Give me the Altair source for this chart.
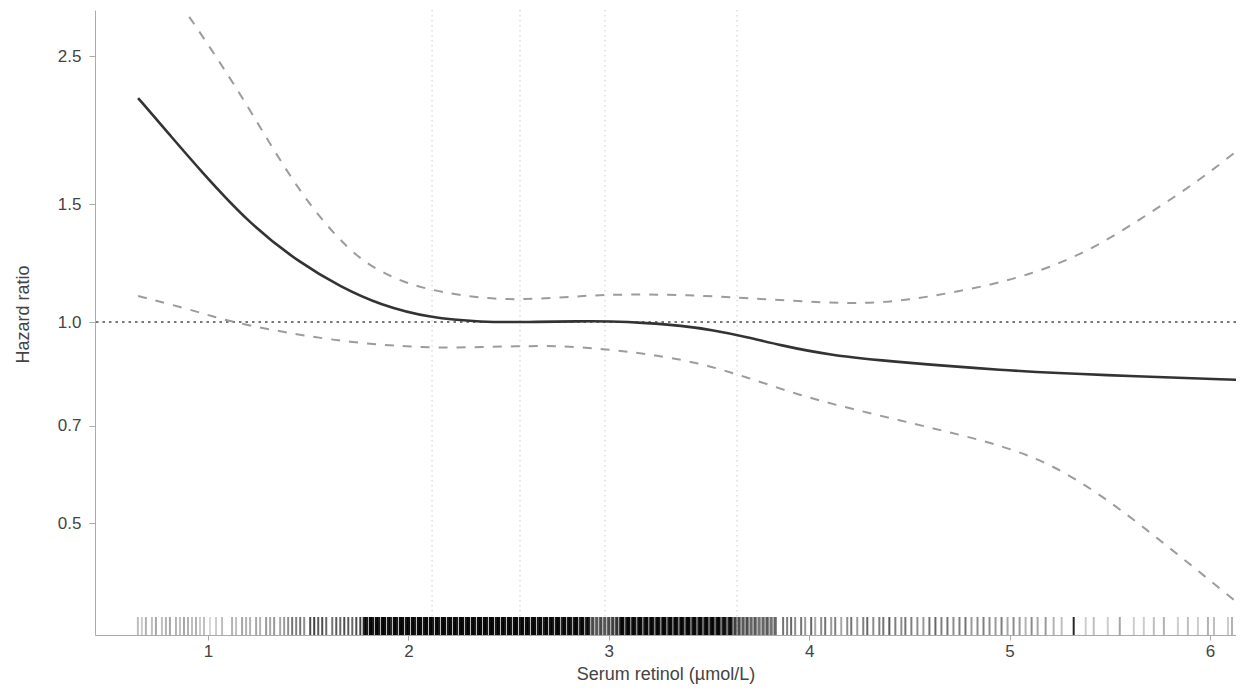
import altair as alt
import pandas as pd

# ---- data ----
main_x = [0.651, 0.81, 0.96, 1.21, 1.46, 1.66, 1.86, 2.11, 2.36, 2.6, 2.86, 3.0, 3.19, 3.36, 3.52, 3.69, 3.85, 4.1, 4.45, 4.95, 5.45, 6.17]
main_hr = [2.165, 1.906, 1.689, 1.40, 1.225, 1.13, 1.06, 1.014, 1.0, 1.0, 1.003, 1.003, 0.997, 0.988, 0.973, 0.95, 0.924, 0.892, 0.871, 0.847, 0.833, 0.819]

upper_x = [0.651, 0.885, 1.04, 1.21, 1.46, 1.71, 1.86, 2.0, 2.16, 2.36, 2.57, 2.86, 3.02, 3.36, 3.69, 4.1, 4.3, 4.5, 4.7, 4.95, 5.2, 5.45, 5.7, 5.95, 6.17]
upper_hr = [3.7, 2.93, 2.5, 2.08, 1.55, 1.27, 1.19, 1.14, 1.109, 1.086, 1.079, 1.094, 1.10, 1.10, 1.086, 1.068, 1.067, 1.08, 1.105, 1.144, 1.205, 1.304, 1.456, 1.632, 1.84]

lower_x = [0.651, 0.96, 1.11, 1.46, 1.71, 1.96, 2.19, 2.56, 2.77, 2.99, 3.19, 3.44, 3.69, 3.95, 4.2, 4.45, 4.7, 4.95, 5.2, 5.45, 5.7, 5.95, 6.17]
lower_hr = [1.094, 1.035, 1.0, 0.956, 0.933, 0.92, 0.914, 0.921, 0.921, 0.911, 0.896, 0.871, 0.827, 0.777, 0.743, 0.713, 0.684, 0.655, 0.615, 0.553, 0.485, 0.422, 0.373]

knots = [2.118, 2.557, 2.981, 3.64]
ref_hr = [1.0]

x_ticks = [1, 2, 3, 4, 5, 6]
y_ticks = [0.5, 0.7, 1.0, 1.5, 2.5]

# rug: tick positions and their grey level
rug_light_a = [0.65, 0.67, 0.69, 0.72, 0.74, 0.77, 0.79, 0.81, 0.84, 0.86, 0.88, 0.90, 0.92, 0.94, 0.96, 0.98,
               1.01, 1.04, 1.07, 1.12, 1.14, 1.17, 1.19, 1.21, 1.24, 1.26, 1.29, 1.31, 1.33, 1.36, 1.38]
shade_a = [0.25, 0.2, 0.3, 0.25, 0.35, 0.25, 0.3, 0.35, 0.3, 0.25, 0.35, 0.3, 0.25, 0.3, 0.2, 0.25,
           0.15, 0.2, 0.25, 0.3, 0.25, 0.35, 0.3, 0.3, 0.35, 0.3, 0.4, 0.35, 0.4, 0.35, 0.4]
rug_mid_b = [1.40, 1.42, 1.44, 1.46, 1.48, 1.51, 1.53, 1.55, 1.57, 1.59, 1.62, 1.64, 1.66, 1.68, 1.70, 1.72, 1.74, 1.76]
shade_b = [0.45, 0.55, 0.5, 0.55, 0.45, 0.7, 0.75, 0.65, 0.7, 0.6, 0.55, 0.65, 0.6, 0.7, 0.65, 0.6, 0.7, 0.75]
rug_dense_c = [1.78, 1.79, 1.81, 1.82, 1.84, 1.85, 1.87, 1.88, 1.90, 1.91, 1.93, 1.94, 1.96, 1.97, 1.99, 2.00,
               2.02, 2.03, 2.05, 2.06, 2.08, 2.09, 2.11, 2.12, 2.14, 2.15, 2.17, 2.18, 2.20, 2.21, 2.23, 2.24,
               2.26, 2.27, 2.29, 2.30, 2.32, 2.33, 2.35, 2.36, 2.38, 2.39, 2.41, 2.42, 2.44, 2.45, 2.47, 2.48,
               2.50, 2.51, 2.53, 2.54, 2.56, 2.57, 2.59, 2.60, 2.62, 2.63, 2.65, 2.66, 2.68, 2.69, 2.71, 2.72,
               2.74, 2.75, 2.77, 2.78, 2.80, 2.81, 2.83, 2.84, 2.86, 2.87, 2.89, 2.90, 2.92, 2.94, 2.96, 2.98,
               3.00, 3.02, 3.04, 3.06, 3.07, 3.09, 3.10, 3.12, 3.13, 3.15, 3.16, 3.18, 3.19, 3.21, 3.22, 3.24,
               3.25, 3.27, 3.28, 3.30, 3.31, 3.33, 3.34, 3.36, 3.37, 3.39, 3.40, 3.42, 3.43, 3.45, 3.46, 3.48,
               3.49, 3.51, 3.52, 3.54, 3.55, 3.57, 3.58, 3.60, 3.61, 3.63, 3.65, 3.67, 3.69, 3.71, 3.73, 3.75,
               3.77, 3.79, 3.81, 3.83]
shade_c = [0.85, 0.9, 0.95, 0.9, 0.95, 0.9, 0.95, 0.95, 0.9, 0.85, 0.95, 0.9, 0.95, 0.95, 0.9, 0.95,
           0.95, 0.9, 0.95, 0.95, 0.9, 0.95, 0.95, 0.9, 0.95, 0.9, 0.95, 0.95, 0.9, 0.95, 0.95, 0.9,
           0.95, 0.95, 0.9, 0.95, 0.95, 0.9, 0.95, 0.95, 0.95, 0.9, 0.95, 0.95, 0.9, 0.95, 0.95, 0.9,
           0.95, 0.9, 0.95, 0.95, 0.9, 0.95, 0.95, 0.9, 0.95, 0.95, 0.9, 0.95, 0.9, 0.95, 0.95, 0.9,
           0.95, 0.95, 0.9, 0.95, 0.95, 0.9, 0.95, 0.95, 0.9, 0.95, 0.9, 0.85, 0.7, 0.65, 0.7, 0.65,
           0.7, 0.75, 0.8, 0.9, 0.95, 0.9, 0.95, 0.95, 0.9, 0.95, 0.95, 0.9, 0.95, 0.95, 0.9, 0.95,
           0.9, 0.95, 0.95, 0.9, 0.95, 0.95, 0.9, 0.95, 0.9, 0.95, 0.95, 0.9, 0.95, 0.9, 0.95, 0.9,
           0.95, 0.9, 0.95, 0.9, 0.95, 0.85, 0.9, 0.85, 0.9, 0.75, 0.7, 0.65, 0.7, 0.6, 0.65, 0.55,
           0.6, 0.65, 0.55, 0.6]
rug_mid_d = [3.87, 3.89, 3.91, 3.93, 3.96, 3.98, 4.01, 4.03, 4.06, 4.08, 4.11, 4.13, 4.16, 4.19, 4.21, 4.24,
             4.27, 4.29, 4.32, 4.35, 4.37, 4.40, 4.43, 4.46, 4.48, 4.51, 4.54, 4.57, 4.60, 4.63, 4.66, 4.69,
             4.72, 4.75, 4.78, 4.81, 4.84, 4.87, 4.90, 4.93, 4.96, 4.99, 5.02, 5.05, 5.08, 5.11, 5.14, 5.18,
             5.22, 5.26, 5.32]
shade_d = [0.55, 0.5, 0.6, 0.45, 0.55, 0.4, 0.6, 0.35, 0.45, 0.55, 0.4, 0.5, 0.35, 0.45, 0.55, 0.4,
           0.5, 0.6, 0.45, 0.5, 0.55, 0.65, 0.5, 0.45, 0.55, 0.5, 0.45, 0.4, 0.55, 0.6, 0.5, 0.55,
           0.45, 0.5, 0.55, 0.4, 0.45, 0.5, 0.45, 0.4, 0.5, 0.35, 0.45, 0.4, 0.3, 0.45, 0.35, 0.4,
           0.3, 0.25, 0.85]
rug_light_e = [5.38, 5.42, 5.49, 5.55, 5.62, 5.67, 5.72, 5.77, 5.84, 5.89, 5.94, 5.99, 6.02, 6.09, 6.11]
shade_e = [0.2, 0.25, 0.2, 0.35, 0.2, 0.2, 0.25, 0.3, 0.2, 0.25, 0.2, 0.3, 0.25, 0.2, 0.3]

rug_sparse_x = rug_light_a + rug_mid_b + rug_mid_d + rug_light_e
rug_sparse_shade = shade_a + shade_b + shade_d + shade_e

# ---- chart ----
FONT = "Liberation Sans"
TXT = "#444444"

df_main = pd.DataFrame({"x": main_x, "y": main_hr})
df_upper = pd.DataFrame({"x": upper_x, "y": upper_hr})
df_lower = pd.DataFrame({"x": lower_x, "y": lower_hr})
df_knots = pd.DataFrame({"x": knots})
df_ref = pd.DataFrame({"y": ref_hr})
df_rug_sparse = pd.DataFrame({"x": rug_sparse_x, "shade": rug_sparse_shade})
df_rug_dense = pd.DataFrame({"x": rug_dense_c, "shade": shade_c})

xscale = alt.Scale(domain=[0.436, 6.13], nice=False, zero=False)
yscale = alt.Scale(type="log", domain=[0.340, 2.933], nice=False)

xaxis = alt.Axis(values=x_ticks, format="d", grid=False, tickSize=5, labelPadding=3,
                 titlePadding=6, domainColor="#aaaaaa", tickColor="#aaaaaa",
                 labelColor=TXT, titleColor=TXT, labelFont=FONT, titleFont=FONT,
                 labelFontSize=17, titleFontSize=18, titleFontWeight="normal")
yaxis = alt.Axis(values=y_ticks, format=".1f", grid=False, tickSize=6, labelPadding=8,
                 titlePadding=25, titleY=304, domainColor="#aaaaaa", tickColor="#aaaaaa",
                 labelColor=TXT, titleColor=TXT, labelFont=FONT, titleFont=FONT,
                 labelFontSize=17, titleFontSize=18, titleFontWeight="normal")

X = alt.X("x:Q", scale=xscale, axis=xaxis, title="Serum retinol (µmol/L)")
Y = alt.Y("y:Q", scale=yscale, axis=yaxis, title="Hazard ratio")

knot_rules = alt.Chart(df_knots).mark_rule(color="#cccccc", strokeWidth=1, strokeDash=[1.5, 3.5]).encode(x=X)
ref_rule = alt.Chart(df_ref).mark_rule(color="#777777", strokeWidth=2, strokeDash=[2.5, 4]).encode(y=Y)
rug_sparse = alt.Chart(df_rug_sparse).mark_rule(color="black", strokeWidth=2).encode(
    x=X, y=alt.value(607), y2=alt.value(625), opacity=alt.Opacity("shade:Q", scale=None, legend=None))
rug_dense = alt.Chart(df_rug_dense).mark_rule(color="black", strokeWidth=3.3).encode(
    x=X, y=alt.value(607), y2=alt.value(625), opacity=alt.Opacity("shade:Q", scale=None, legend=None))
upper = alt.Chart(df_upper).mark_line(color="#9c9c9c", strokeWidth=2, strokeDash=[9, 9],
                                      interpolate="basis", clip=True).encode(x=X, y=Y)
lower = alt.Chart(df_lower).mark_line(color="#9c9c9c", strokeWidth=2, strokeDash=[9, 9],
                                      interpolate="basis", clip=True).encode(x=X, y=Y)
main = alt.Chart(df_main).mark_line(color="#333333", strokeWidth=2.6,
                                    interpolate="basis", clip=True).encode(x=X, y=Y)

chart = alt.layer(knot_rules, ref_rule, rug_sparse, rug_dense, upper, lower, main).properties(
    width=1141, height=625,
    padding={"left": 87, "top": 2, "right": 0, "bottom": 49},
    autosize=alt.AutoSizeParams(type="none"),
    background="white",
).configure_view(stroke=None)

chart.save("out.html", embed_options={"renderer": "svg", "actions": False})
